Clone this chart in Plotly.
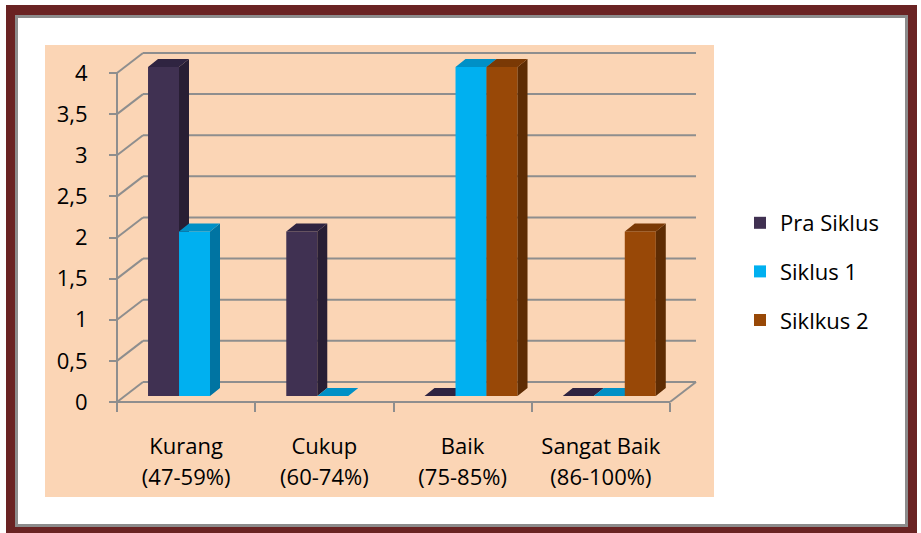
import plotly.graph_objects as go

# ---------------- data ----------------
categories = ["Kurang", "Cukup", "Baik", "Sangat Baik"]
category_ranges = ["(47-59%)", "(60-74%)", "(75-85%)", "(86-100%)"]
series_names = ["Pra Siklus", "Siklus 1", "Siklkus 2"]
pra_siklus = [4, 2, 0, 0]
siklus_1 = [2, 0, 4, 0]
siklus_2 = [None, None, 4, 2]
y_ticks = [0, 0.5, 1, 1.5, 2, 2.5, 3, 3.5, 4]

series_values = [pra_siklus, siklus_1, siklus_2]

# ---------------- styling / geometry ----------------
W, H = 921, 533
FONT = "Open Sans"
FS = 22
front_col = ["#403152", "#00b0f0", "#984807"]
top_col = ["#2f2441", "#0090c6", "#7a3905"]
side_col = ["#281e34", "#0074a2", "#5e2c03"]
grid_col = "#8e8e8e"

X0, UX = 117.0, 138.25   # pixel of x=-0.5, px per category
Y0, UY = 402.0, 82.25    # pixel of y=0, px per unit


def fx(px):
    return px / W


def fy(py):
    return 1 - py / H


XR = (-0.6, 3.75)
YR = (-0.15, 4.35)
xdom = [fx(X0 + (XR[0] + 0.5) * UX), fx(X0 + (XR[1] + 0.5) * UX)]
ydom = [fy(Y0 - YR[0] * UY), fy(Y0 - YR[1] * UY)]

DX, DY = 26 / UX, 20 / UY          # depth of the 3D wall
SX, SY = 8.4 / UX, 6 / UY          # bar row shift inside depth
BW = 31 / UX                       # bar width
BDX, BDY = 10 / UX, 8 / UY         # bar depth

fig = go.Figure()

for i, (name, vals) in enumerate(zip(series_names, series_values)):
    ax = str(i + 2)
    off = (i - 1.5) * BW
    fig.add_trace(go.Bar(
        x=list(range(len(categories))), y=vals, name=name,
        width=BW, offset=off,
        marker=dict(color=front_col[i], line=dict(width=0)),
        xaxis="x" + ax, yaxis="y" + ax,
        legendgroup=name,
    ))
    tx, ty, sx, sy = [], [], [], []
    for c, v in enumerate(vals):
        if v is None:
            continue
        l = c + off
        r = l + BW
        tx += [l, r, r + BDX, l + BDX, l, None]
        ty += [v, v, v + BDY, v + BDY, v, None]
        if v > 0:
            sx += [r, r, r + BDX, r + BDX, r, None]
            sy += [0, v, v + BDY, BDY, 0, None]
    for px_, py_, col in ((sx, sy, side_col[i]), (tx, ty, top_col[i])):
        if px_:
            fig.add_trace(go.Scatter(
                x=px_, y=py_, mode="lines", fill="toself", fillcolor=col,
                line=dict(width=0, color=col), hoverinfo="skip",
                showlegend=False, xaxis="x" + ax, yaxis="y" + ax,
            ))

# dummy trace for the second line of category labels
fig.add_trace(go.Scatter(x=list(range(len(categories))), y=[None] * len(categories),
                         xaxis="x5", yaxis="y", showlegend=False, hoverinfo="skip"))

# ---------------- shapes (frame, background, 3D walls) ----------------
shapes = [
    dict(type="rect", xref="paper", yref="paper", x0=fx(6), x1=fx(917), y0=fy(5), y1=fy(545),
         fillcolor="#6a2323", line=dict(width=0), layer="below"),
    dict(type="rect", xref="paper", yref="paper", x0=fx(15), x1=fx(908), y0=fy(15), y1=fy(527),
         fillcolor="#8c8c8c", line=dict(width=0), layer="below"),
    dict(type="rect", xref="paper", yref="paper", x0=fx(18), x1=fx(905), y0=fy(18), y1=fy(524),
         fillcolor="#ffffff", line=dict(width=0), layer="below"),
    dict(type="rect", xref="paper", yref="paper", x0=fx(45), x1=fx(714), y0=fy(45), y1=fy(497),
         fillcolor="#fbd5b5", line=dict(width=0), layer="below"),
]
gl = dict(color=grid_col, width=2)
for v in y_ticks:
    shapes.append(dict(type="line", xref="x", yref="y", x0=-0.5 + DX, x1=3.5 + DX,
                       y0=v + DY, y1=v + DY, line=gl, layer="below"))
    shapes.append(dict(type="line", xref="x", yref="y", x0=-0.5, x1=-0.5 + DX,
                       y0=v, y1=v + DY, line=gl, layer="below"))
shapes.append(dict(type="line", xref="x", yref="y", x0=-0.5, x1=-0.5, y0=0, y1=y_ticks[-1],
                   line=gl, layer="below"))
shapes.append(dict(type="line", xref="x", yref="y", x0=-0.5, x1=3.5, y0=0, y1=0,
                   line=gl, layer="below"))
shapes.append(dict(type="line", xref="x", yref="y", x0=3.5, x1=3.5 + DX, y0=0, y1=DY,
                   line=gl, layer="below"))

tickfont = dict(family=FONT, size=FS, color="#000000")
layout = dict(
    width=W, height=H,
    margin=dict(l=0, r=0, t=0, b=0),
    paper_bgcolor="#ffffff", plot_bgcolor="rgba(0,0,0,0)",
    separators=", ",
    barmode="overlay",
    hovermode=False,
    shapes=shapes,
    font=dict(family=FONT, size=FS, color="#000000"),
    showlegend=True,
    legend=dict(x=fx(740), xanchor="left", y=fy(202), yanchor="top",
                bgcolor="rgba(0,0,0,0)", font=dict(family=FONT, size=FS, color="#000000"),
                traceorder="grouped", tracegroupgap=17, itemclick=False),
    xaxis=dict(domain=xdom, range=list(XR), anchor="free", position=fy(Y0),
               tickmode="array", tickvals=list(range(len(categories))), ticktext=categories,
               ticks="", showgrid=False, zeroline=False, showline=False,
               tickfont=tickfont, ticklabelstandoff=29,
               minor=dict(tickmode="array", tickvals=[-0.5, 0.5, 1.5, 2.5, 3.5], ticks="outside",
                          ticklen=9, tickwidth=2, tickcolor=grid_col, showgrid=False)),
    yaxis=dict(domain=ydom, range=list(YR), anchor="free", position=fx(X0),
               tickmode="array", tickvals=y_ticks, ticks="outside", ticklen=8, tickwidth=2,
               tickcolor=grid_col, showgrid=False, zeroline=False, showline=False,
               tickfont=tickfont, ticklabelstandoff=17),
    xaxis5=dict(domain=xdom, range=list(XR), overlaying="x", anchor="free", position=fy(Y0),
                tickmode="array", tickvals=list(range(len(categories))), ticktext=category_ranges,
                ticks="", showgrid=False, zeroline=False, showline=False,
                tickfont=tickfont, ticklabelstandoff=60),
)
for i in range(3):
    ax = str(i + 2)
    layout["xaxis" + ax] = dict(domain=xdom, range=[XR[0] - SX, XR[1] - SX], overlaying="x",
                                anchor="y" + ax, visible=False)
    layout["yaxis" + ax] = dict(domain=ydom, range=[YR[0] - SY, YR[1] - SY], overlaying="y",
                                anchor="x" + ax, visible=False)
fig.update_layout(**layout)

fig.write_html("out.html", config={"displayModeBar": False, "staticPlot": True},
               post_script="document.body.style.margin='0';")
